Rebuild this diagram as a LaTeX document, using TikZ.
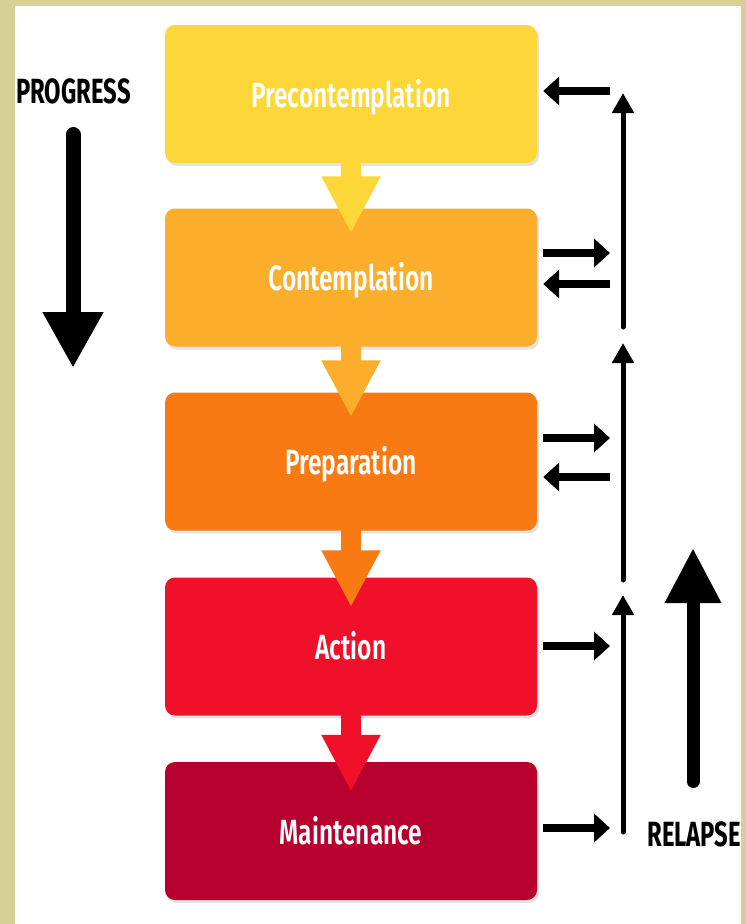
\documentclass[tikz,border=0pt]{standalone}
\usepackage{fontspec}
\usetikzlibrary{arrows.meta,shadows,calc}
\newfontfamily\stagefont[FakeStretch=0.68]{Fira Sans}
\newfontfamily\stagetextfont[FakeStretch=0.70]{Fira Sans SemiBold}
\definecolor{frame}{HTML}{D7D096}
\definecolor{stageA}{HTML}{FDD638}
\definecolor{stageB}{HTML}{FBAE2C}
\definecolor{stageC}{HTML}{F97A12}
\definecolor{stageD}{HTML}{F0102A}
\definecolor{stageE}{HTML}{B8002E}

\begin{document}
\begin{tikzpicture}[x=1pt,y=-1pt,
  stage/.style={rounded corners=10pt, minimum width=372pt, minimum height=138pt,
    inner sep=0pt, text height=33pt, text depth=7pt,
    text=white, font=\stagetextfont\fontsize{35}{40}\selectfont,
    drop shadow={opacity=0.22, shadow xshift=2pt, shadow yshift=-3pt}},
  flow/.style={line width=20pt, -{Triangle[width=55pt,length=57pt]}},
  cue/.style={line width=8pt, -{Triangle[width=28pt,length=16pt]}},
  rail/.style={line width=5pt, line cap=round, -{Triangle[width=21pt,length=20pt]}},
  heading/.style={inner sep=0pt, text=black, font=\stagefont\bfseries\fontsize{35}{40}\selectfont}
]
% page and frame
\useasboundingbox (0,0) rectangle (746,924);
\fill[frame] (0,0) rectangle (746,924);
\fill[white] (15,6) rectangle (741,924);

% stage boxes
\node[stage, fill=stageA] (b1) at (351,94)    {Precontemplation};
\node[stage, fill=stageB] (b2) at (351,277.5) {Contemplation};
\node[stage, fill=stageC] (b3) at (351,461.5) {Preparation};
\node[stage, fill=stageD] (b4) at (351,646.5) {Action};
\node[stage, fill=stageE] (b5) at (351,831)   {Maintenance};

% progression arrows between stages
\draw[flow, stageA] ([yshift=1pt]b1.south) -- ([yshift=-25pt]b2.north);
\draw[flow, stageB] ([yshift=1pt]b2.south) -- ([yshift=-25pt]b3.north);
\draw[flow, stageC] ([yshift=1pt]b3.south) -- ([yshift=-30pt]b4.north);
\draw[flow, stageD] ([yshift=1pt]b4.south) -- ([yshift=-30pt]b5.north);

% PROGRESS label and arrow
\node[heading] (progress) at (73.5,91) {PROGRESS};
\coordinate (pg0) at (73,134.5);
\coordinate (pg1) at (73,368);
\draw[line width=15pt, line cap=round, -{Triangle[width=57pt,length=56pt]}] (pg0) -- (pg1);

% relapse rail
\coordinate (ra0) at (623,327); \coordinate (ra1) at (623,93);
\coordinate (rb0) at (623,580); \coordinate (rb1) at (623,343);
\coordinate (rc0) at (623,832); \coordinate (rc1) at (623,595);
\draw[rail] (ra0) -- (ra1);
\draw[rail] (rb0) -- (rb1);
\draw[rail] (rc0) -- (rc1);

% links between stages and rail
\coordinate (p1)  at (610,91);
\coordinate (p2a) at (610,253);
\coordinate (p2b) at (610,284);
\coordinate (p3a) at (610,438);
\coordinate (p3b) at (610,477);
\coordinate (p4)  at (610,646);
\coordinate (p5)  at (610,828);
\draw[cue] (p1) -- ($(p1 -| b1.east)+(6,0)$);
\draw[cue] ($(p2a -| b2.east)+(6,0)$) -- (p2a);
\draw[cue] (p2b) -- ($(p2b -| b2.east)+(6,0)$);
\draw[cue] ($(p3a -| b3.east)+(6,0)$) -- (p3a);
\draw[cue] (p3b) -- ($(p3b -| b3.east)+(6,0)$);
\draw[cue] ($(p4 -| b4.east)+(6,0)$) -- (p4);
\draw[cue] ($(p5 -| b5.east)+(6,0)$) -- (p5);

% RELAPSE label and arrow
\coordinate (rl0) at (693,781.5);
\coordinate (rl1) at (693,548);
\draw[line width=13pt, line cap=round, -{Triangle[width=53pt,length=55pt]}] (rl0) -- (rl1);
\node[heading, anchor=east] (relapse) at (741,834) {RELAPSE};
\end{tikzpicture}
\end{document}
